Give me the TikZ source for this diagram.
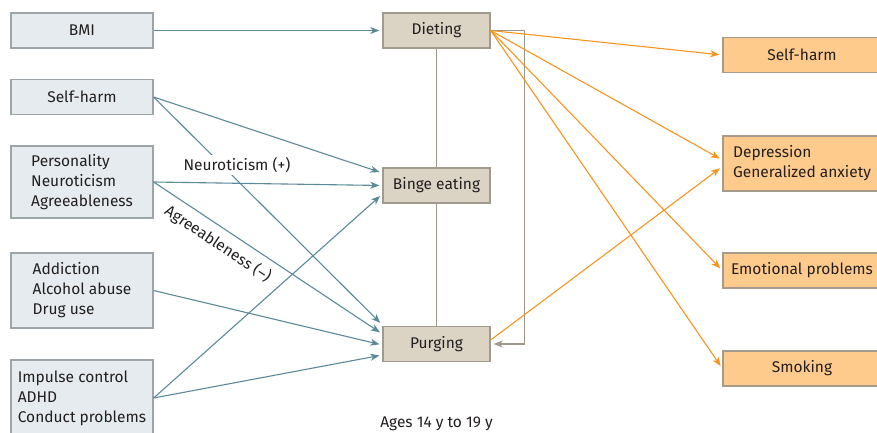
\documentclass[tikz,border=0pt]{standalone}
\usepackage{fontspec}
\setmainfont{Fira Sans}
\usepackage{tikz}
\usetikzlibrary{shapes,arrows.meta,calc}
\definecolor{leftfill}{HTML}{E5EBEE}
\definecolor{leftdraw}{HTML}{9EA5A9}
\definecolor{midfill}{HTML}{DBD4C5}
\definecolor{middraw}{HTML}{A19B8F}
\definecolor{outfill}{HTML}{FECB8C}
\definecolor{outdraw}{HTML}{A49B8B}
\definecolor{tealline}{HTML}{5A8A99}
\definecolor{orangeline}{HTML}{F7941E}
\definecolor{linkgray}{HTML}{9E978C}
\definecolor{textcol}{HTML}{231F20}
\tikzstyle{line} = [draw=tealline, line width=1.1pt, -{Stealth[length=9pt,width=7pt,inset=2.5pt]}, shorten >=3pt]
\tikzstyle{oline} = [draw=orangeline, line width=1.1pt, -{Stealth[length=9pt,width=7pt,inset=2.5pt]}, shorten >=3pt]
\tikzstyle{back} = [draw=linkgray, line width=1.3pt, -{Stealth[length=9pt,width=7pt,inset=2.5pt]}, shorten >=3pt]
\tikzstyle{link} = [draw=linkgray, line width=1.3pt]
\tikzstyle{block} = [draw=leftdraw, fill=leftfill, rectangle, line width=1.3pt, align=left, minimum width=142pt, minimum height=35pt]
\tikzstyle{eblock} = [draw=middraw, fill=midfill, rectangle, line width=1.3pt, align=left, minimum width=107pt, minimum height=35pt]
\tikzstyle{oblock} = [draw=outdraw, fill=outfill, rectangle, line width=1.3pt, align=left, minimum width=158pt, minimum height=35pt]
\tikzstyle{lbl} = [fill=white, inner sep=2pt]

\begin{document}
\begin{tikzpicture}[x=1pt, y=-1pt, font=\fontsize{15.5}{20}\selectfont, text=textcol]
        \useasboundingbox (0,0) rectangle (877,433);
        % risk factors
        \node[block] (bmi) at (82,30.5) {BMI};
        \node[block, below of=bmi, node distance=66.5pt] (selfharm) {Self-harm};
        \node[block, below of=selfharm, node distance=85pt, minimum height=72pt] (person) {Personality\\Neuroticism\\Agreeableness};
        \node[block, below of=person, node distance=108.5pt, minimum height=75pt] (addict) {Addiction\\Alcohol abuse\\Drug use};
        \node[block, below of=addict, node distance=107.5pt, minimum height=76pt] (impulse) {Impulse control\\ADHD\\Conduct problems};
        % eating disorder behaviours
        \node[eblock, right of=bmi, node distance=354.5pt] (diet) {Dieting};
        \node[eblock, below of=diet, node distance=155pt] (binge) {Binge eating};
        \node[eblock, below of=binge, node distance=158.5pt] (purge) {Purging};
        \node[below of=purge, node distance=80pt] (ages) {Ages 14 y to 19 y};
        % outcomes
        \node[oblock] (oself) at (802,55) {Self-harm};
        \node[oblock, below of=oself, node distance=108.5pt, minimum height=55pt] (odep) {Depression\\Generalized anxiety};
        \node[oblock, below of=odep, node distance=107pt] (oemo) {Emotional problems};
        \node[oblock, below of=oemo, node distance=98pt] (osmoke) {Smoking};
        \path[line] (bmi) -- (diet);
        \path[line] (selfharm.east) -- ([yshift=12.5pt]binge.west);
        \path[line] (selfharm.east) -- ([yshift=19pt]purge.west);
        \path[line] (person.east) -- (binge.west);
        \path[line] (person.east) -- node[sloped, pos=0.32, below=4pt] (agree) {Agreeableness (–)} ([yshift=10pt]purge.west);
        \path[line] (addict.east) -- ([yshift=-1pt]purge.west);
        \path[line] (impulse.east) -- ([yshift=-8.5pt]binge.west);
        \path[line] (impulse.east) -- ([yshift=-11pt]purge.west);
        \node[lbl] (neuro) at (237,165) {Neuroticism (+)};
        \path[link] (diet) -- (binge);
        \path[link] (binge) -- (purge);
        \path[back] (diet.east) -- ++(34,0) |- (purge.east);
        \path[oline] (diet.east) -- (oself.west);
        \path[oline] (diet.east) -- ([yshift=3.5pt]odep.west);
        \path[oline] (diet.east) -- (oemo.west);
        \path[oline] (diet.east) -- (osmoke.west);
        \path[oline] ([yshift=4pt]purge.east) -- ([yshift=-3pt]odep.west);
\end{tikzpicture}
\end{document}
